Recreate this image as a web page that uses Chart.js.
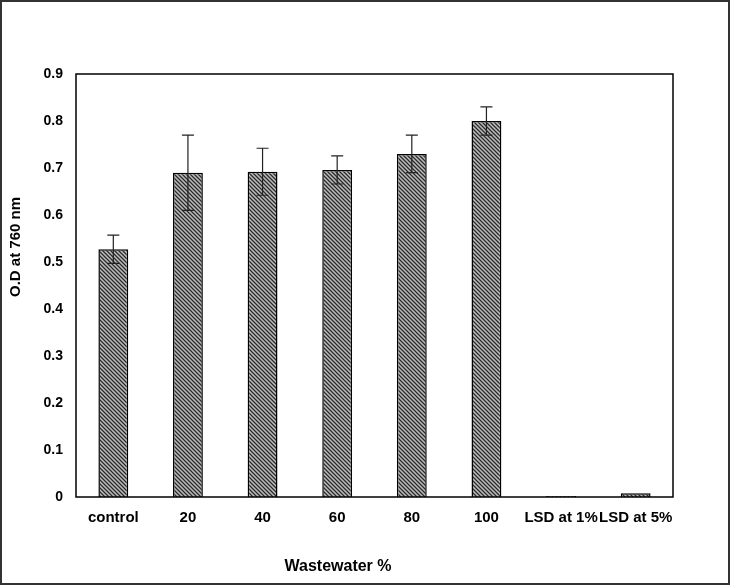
<!DOCTYPE html>
<html>
<head>
<meta charset="utf-8">
<script src="https://cdn.jsdelivr.net/npm/chart.js@4"></script>
<style>
  html, body { margin: 0; padding: 0; background: #fff; }
  #wrap { width: 730px; height: 585px; position: relative; }
</style>
</head>
<body>
<div id="wrap"><canvas id="basechart"></canvas></div>
<script>
// data
const categories = ['control', '20', '40', '60', '80', '100', 'LSD at 1%', 'LSD at 5%'];
const odValues = [0.527, 0.690, 0.692, 0.696, 0.730, 0.800, 0.002, 0.008];
const odErrors = [0.030, 0.080, 0.050, 0.030, 0.040, 0.030, null, null];
const yTicks = [0, 0.1, 0.2, 0.3, 0.4, 0.5, 0.6, 0.7, 0.8, 0.9];

const fontFamily = '"Liberation Sans", Arial, sans-serif';

// Hatched fill like the original (dark diagonal lines on gray)
function makeHatch() {
    const c = document.createElement('canvas');
    c.width = 4;
    c.height = 4;
    const g = c.getContext('2d');
    g.fillStyle = '#bdbdbd';
    g.fillRect(0, 0, 4, 4);
    g.strokeStyle = '#2a2a2a';
    g.lineWidth = 1.3;
    g.beginPath();
    g.moveTo(-1, -1); g.lineTo(5, 5);
    g.moveTo(-3, 1); g.lineTo(1, 5);
    g.moveTo(3, -1); g.lineTo(5, 1);
    g.stroke();
    return g.createPattern(c, 'repeat');
}

// Draw frame, error bars and axis titles
const extras = {
    id: 'extras',
    afterDatasetsDraw(chart) {
        const ctx = chart.ctx;
        const area = chart.chartArea;
        const x = chart.scales.x;
        const y = chart.scales.y;

        // error bars
        ctx.save();
        ctx.strokeStyle = '#222';
        ctx.lineWidth = 1.2;
        odErrors.forEach((err, i) => {
            if (err === null) return;
            const cx = x.getPixelForValue(i);
            const top = y.getPixelForValue(odValues[i] + err);
            const bot = y.getPixelForValue(odValues[i] - err);
            ctx.beginPath();
            ctx.moveTo(cx, top); ctx.lineTo(cx, bot);
            ctx.moveTo(cx - 6, top); ctx.lineTo(cx + 6, top);
            ctx.moveTo(cx - 6, bot); ctx.lineTo(cx + 6, bot);
            ctx.stroke();
        });

        // plot area box
        ctx.strokeStyle = '#000';
        ctx.lineWidth = 1.5;
        ctx.strokeRect(area.left, area.top, area.right - area.left, area.bottom - area.top);

        // outer frame
        ctx.strokeStyle = '#333';
        ctx.lineWidth = 2;
        ctx.strokeRect(1, 1, chart.width - 2, chart.height - 2);

        // axis titles
        ctx.fillStyle = '#000';
        ctx.font = 'bold 16px ' + fontFamily;
        ctx.textAlign = 'center';
        ctx.textBaseline = 'middle';
        ctx.fillText('Wastewater %', 338, 567);
        ctx.translate(16, 247);
        ctx.rotate(-Math.PI / 2);
        ctx.font = 'bold 15px ' + fontFamily;
        ctx.fillText('O.D at 760 nm', 0, 0);
        ctx.restore();
    }
};

const serverChart = new Chart(document.getElementById('basechart').getContext('2d'), {
    type: 'bar',
    data: {
        labels: categories,
        datasets: [{
            data: odValues,
            backgroundColor: makeHatch(),
            borderColor: '#000',
            borderWidth: 1.5,
            categoryPercentage: 1,
            barPercentage: 0.4
        }]
    },
    options: {
        responsive: true,
        maintainAspectRatio: false,
        animation: false,
        layout: {
            padding: { top: 74, right: 57, bottom: 0, left: 0 }
        },
        plugins: {
            legend: { display: false },
            title: { display: false },
            tooltip: { enabled: false }
        },
        scales: {
            y: {
                min: 0,
                max: 0.9,
                afterBuildTicks: axis => {
                    axis.ticks = yTicks.map(v => ({ value: v }));
                },
                afterFit: axis => { axis.width = 76; },
                grid: { display: false, drawTicks: false },
                border: { display: false },
                ticks: {
                    padding: 13,
                    color: '#000',
                    font: { family: fontFamily, size: 14, weight: 'bold' },
                    callback: v => v === 0 ? '0' : v.toFixed(1)
                }
            },
            x: {
                afterFit: axis => { axis.height = 88; },
                grid: { display: false, drawTicks: false },
                border: { display: false },
                ticks: {
                    padding: 12,
                    maxRotation: 0,
                    autoSkip: false,
                    color: '#000',
                    font: { family: fontFamily, size: 15, weight: 'bold' }
                }
            }
        }
    },
    plugins: [extras]
});
</script>
</body>
</html>
